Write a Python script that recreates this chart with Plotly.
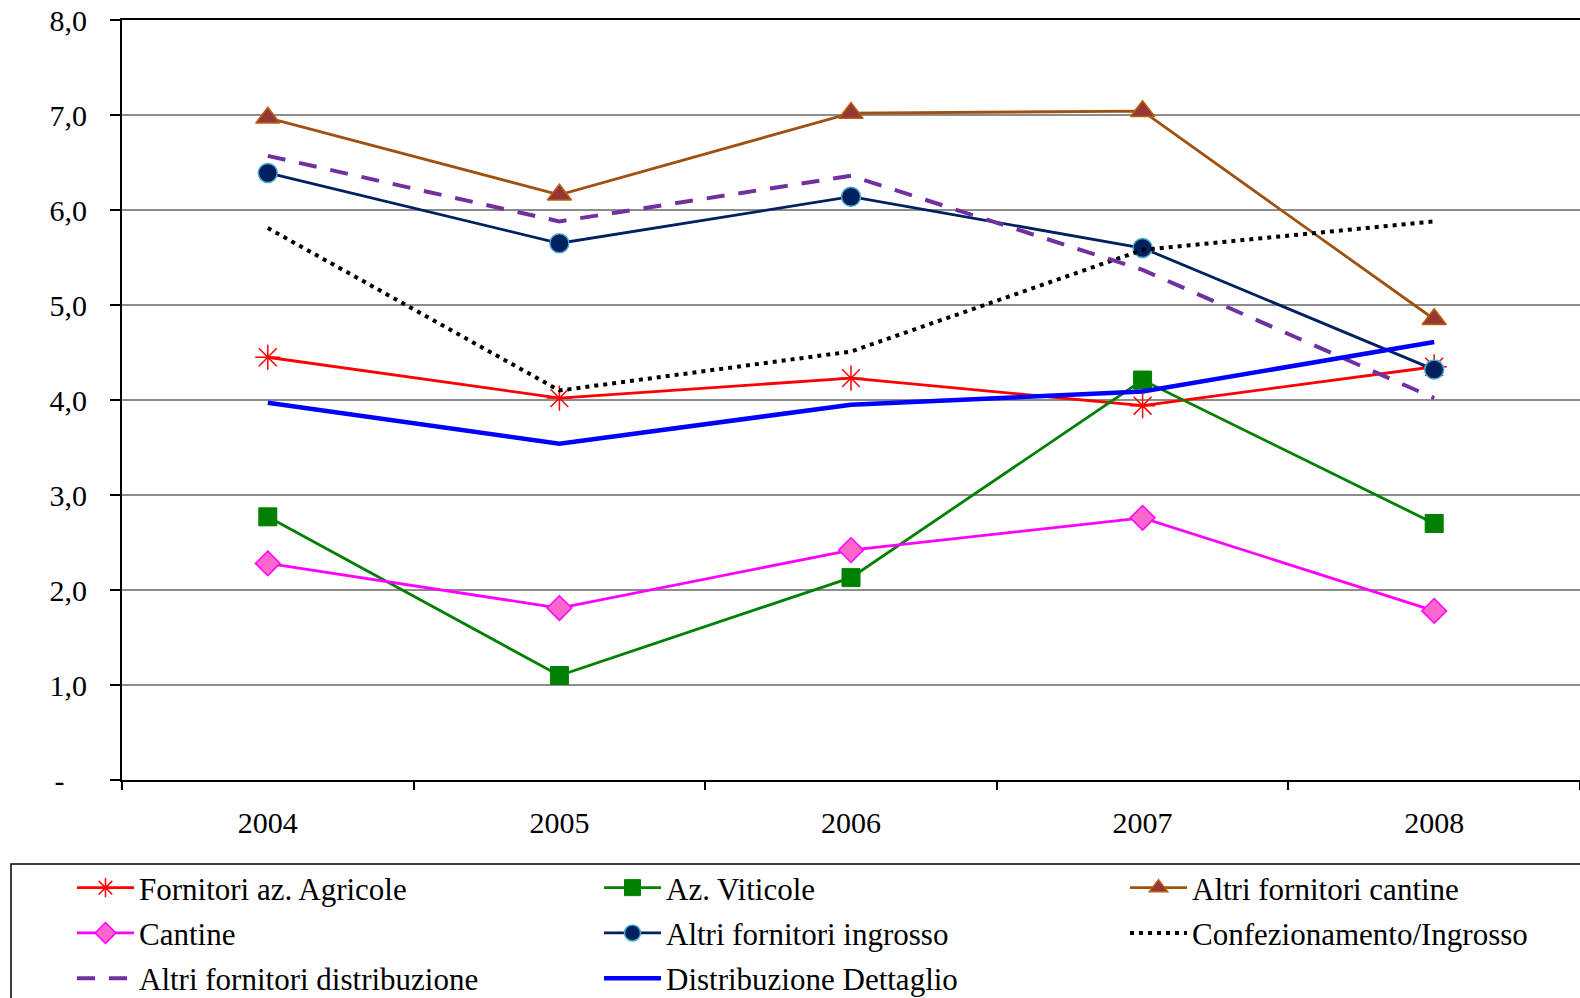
import plotly.graph_objects as go

years = ["2004", "2005", "2006", "2007", "2008"]
fornitori_agricole = [4.45, 4.02, 4.23, 3.94, 4.35]
az_viticole = [2.77, 1.10, 2.13, 4.21, 2.70]
altri_cantine = [6.97, 6.16, 7.02, 7.04, 4.85]
cantine = [2.28, 1.81, 2.42, 2.76, 1.78]
altri_ingrosso = [6.39, 5.65, 6.14, 5.60, 4.32]
confezionamento = [5.81, 4.10, 4.51, 5.58, 5.88]
altri_distribuzione = [6.57, 5.88, 6.36, 5.37, 4.02]
distribuzione_dettaglio = [3.97, 3.54, 3.95, 4.09, 4.61]

y_tickvals = [0, 1, 2, 3, 4, 5, 6, 7, 8]
y_ticktext = ["-\u00a0\u00a0\u00a0", "1,0", "2,0", "3,0", "4,0", "5,0", "6,0", "7,0", "8,0"]

fig = go.Figure()

def add(name, y, color, width, legend, dash="solid", marker=None):
    kw = dict(x=years, y=y, name=name, legend=legend, legendgroup=name,
              line=dict(color=color, width=width, dash=dash))
    if marker:
        kw["mode"] = "lines+markers"
        kw["marker"] = marker
    else:
        kw["mode"] = "lines"
    fig.add_trace(go.Scatter(**kw))

add("Fornitori az. Agricole", fornitori_agricole, "#FF0000", 2.8, "legend",
    marker=dict(symbol="asterisk-open", size=21, line=dict(color="#FF0000", width=1.5)))
add("Az. Viticole", az_viticole, "#008000", 2.8, "legend2",
    marker=dict(symbol="square", size=18, color="#008000", line=dict(color="#008000", width=1)))
add("Altri fornitori cantine", altri_cantine, "#A0500F", 2.8, "legend3",
    marker=dict(symbol="triangle-up", size=21, color="#953735", line=dict(color="#B8600F", width=1.5)))
add("Cantine", cantine, "#FF00FF", 2.8, "legend",
    marker=dict(symbol="diamond", size=19, color="#FF66CC", line=dict(color="#FF00FF", width=1.5)))
add("Altri fornitori ingrosso", altri_ingrosso, "#002060", 2.8, "legend2",
    marker=dict(symbol="circle", size=19, color="#002060", line=dict(color="#4BACC6", width=1.5)))
add("Confezionamento/Ingrosso", confezionamento, "#000000", 4, "legend3", dash="4px,5px")
add("Altri fornitori distribuzione", altri_distribuzione, "#7030A0", 4, "legend", dash="18px,14px")
add("Distribuzione Dettaglio", distribuzione_dettaglio, "#0000FF", 4.5, "legend2")

font_family = "Liberation Serif, Times New Roman, serif"

def leg(xpx):
    return dict(
        orientation="v",
        xref="container", yref="container",
        x=xpx / 1580, y=1 - 861 / 998,
        xanchor="left", yanchor="top",
        itemwidth=57,
        font=dict(family=font_family, size=31, color="black"),
        bgcolor="rgba(0,0,0,0)",
        tracegroupgap=2,
    )

fig.update_layout(
    width=1580, height=998,
    paper_bgcolor="white", plot_bgcolor="white",
    margin=dict(l=122, r=0, t=20, b=218, autoexpand=False),
    font=dict(family=font_family, size=30, color="black"),
    showlegend=True,
    legend=leg(72),
    legend2=leg(599),
    legend3=leg(1125),
    xaxis=dict(
        type="category",
        range=[-0.5, 4.5],
        automargin=False,
        tickson="boundaries",
        ticks="outside", ticklen=8, tickwidth=1.5, tickcolor="black",
        showline=True, linecolor="black", linewidth=2, mirror=True,
        showgrid=False, zeroline=False,
        ticklabelstandoff=15,
        tickfont=dict(family=font_family, size=30),
    ),
    yaxis=dict(
        range=[0, 8],
        automargin=False,
        tickvals=y_tickvals, ticktext=y_ticktext,
        ticks="outside", ticklen=10, tickwidth=1.5, tickcolor="black",
        showline=True, linecolor="black", linewidth=2,
        showgrid=True, gridcolor="#8C8C8C", gridwidth=1.5,
        zeroline=False,
        ticklabelstandoff=17,
        tickfont=dict(family=font_family, size=30),
    ),
)

fig.add_shape(type="rect", xref="paper", yref="paper",
              x0=-111 / 1458, x1=1.02, y0=-0.4, y1=-(864 - 780) / 760,
              line=dict(color="black", width=1.5), fillcolor="rgba(0,0,0,0)", layer="below")

fig.write_html("out.html",
               config={"displayModeBar": False},
               post_script="document.body.style.margin='0px';document.body.style.overflow='hidden';")
